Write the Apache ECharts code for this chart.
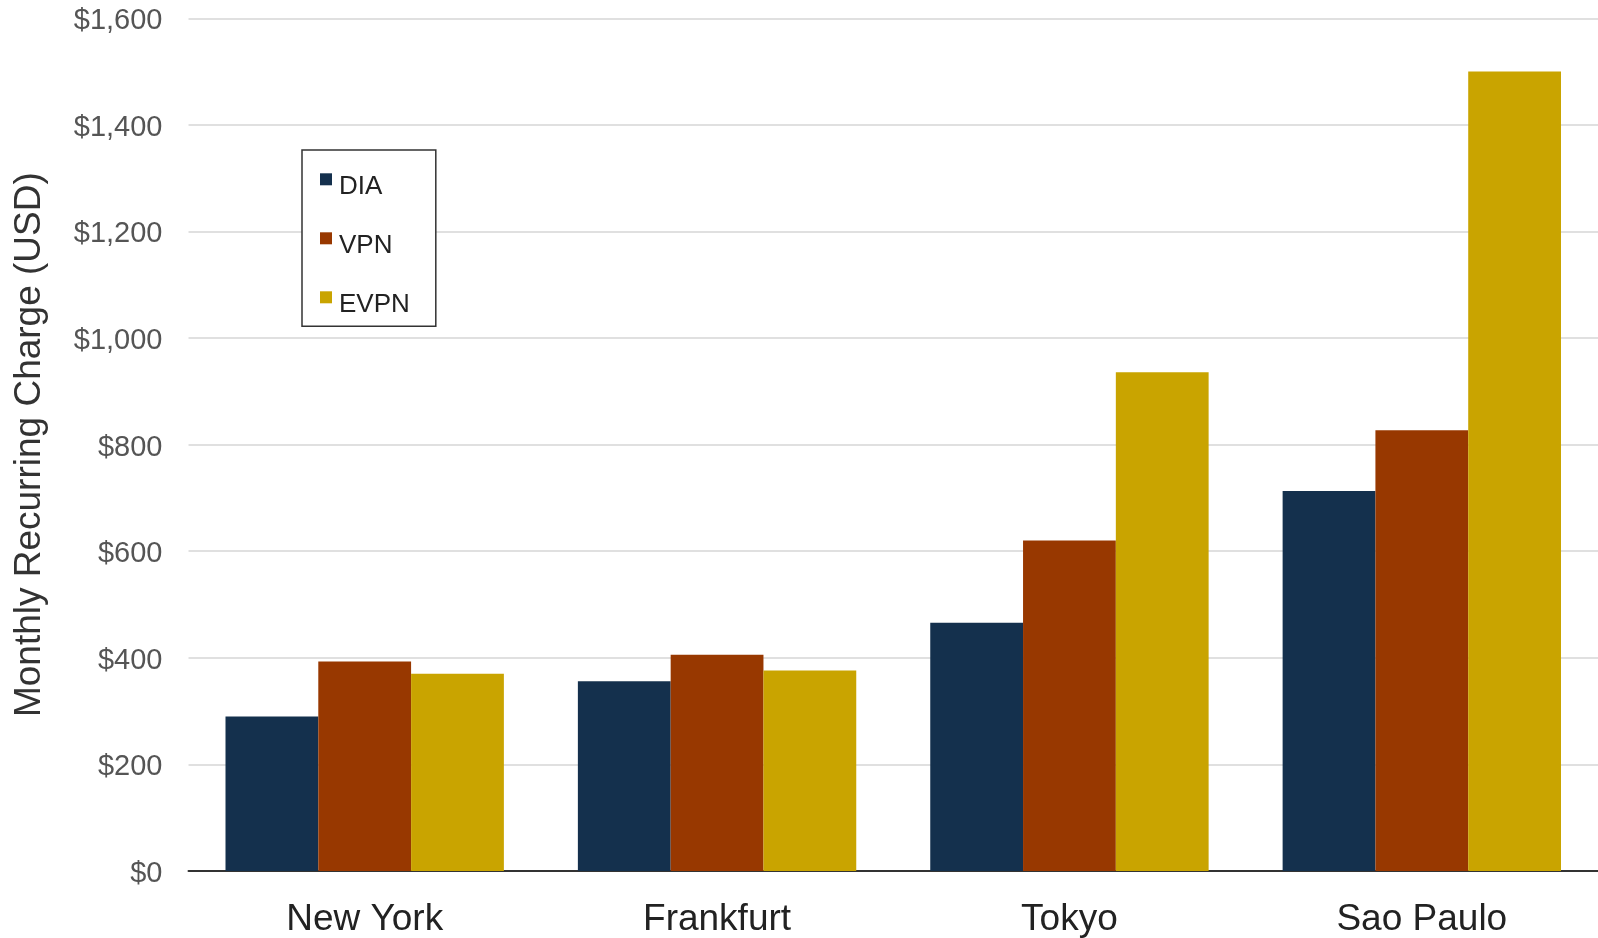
<!DOCTYPE html>
<html>
<head>
<meta charset="utf-8">
<script src="https://cdn.jsdelivr.net/npm/echarts@6/dist/echarts.min.js"></script>
<style>
  html, body { margin: 0; padding: 0; background: #fff; }
  #chart { width: 1598px; height: 938px; }
</style>
</head>
<body>
<div id="chart"></div>
<script>
// Monthly recurring charge per service type, by city
const cities = ['New York', 'Frankfurt', 'Tokyo', 'Sao Paulo'];
const diaValues = [290, 356, 466, 713];
const vpnValues = [393, 406, 620, 827];
const evpnValues = [370, 376, 936, 1500];
const yTicks = { min: 0, max: 1600, step: 200 };

const FONT = '"Liberation Sans", "Helvetica Neue", Helvetica, Arial, sans-serif';
const colors = { DIA: '#14304d', VPN: '#983800', EVPN: '#c9a400' };

const chart = echarts.init(document.getElementById('chart'), null, { renderer: 'canvas' });

function barSeries(name, values) {
  return {
    name: name,
    type: 'bar',
    data: values,
    barGap: '0%',
    barCategoryGap: '21%',
    itemStyle: { color: colors[name] },
    emphasis: { disabled: true }
  };
}

chart.setOption({
  animation: false,
  backgroundColor: '#ffffff',
  grid: { left: 188.5, right: 0, top: 18.3, bottom: 66.3, containLabel: false },
  legend: {
    orient: 'vertical',
    left: 302,
    top: 150,
    padding: [8.8, 26, 8.5, 18],
    itemGap: 18,
    itemWidth: 12,
    itemHeight: 12,
    icon: 'rect',
    borderColor: '#333333',
    borderWidth: 1.5,
    backgroundColor: '#ffffff',
    data: ['DIA', 'VPN', 'EVPN'],
    formatter: '{n|{name}}',
    textStyle: {
      rich: {
        n: {
          fontFamily: FONT,
          fontSize: 26,
          color: '#222222',
          lineHeight: 30,
          padding: [15, 0, 0, 2]
        }
      }
    }
  },
  xAxis: {
    type: 'category',
    data: cities,
    axisLine: { show: true, lineStyle: { color: '#333333', width: 2 } },
    axisTick: { show: false },
    axisLabel: {
      fontFamily: FONT,
      fontSize: 37,
      color: '#222222',
      margin: 30
    }
  },
  yAxis: {
    type: 'value',
    min: yTicks.min,
    max: yTicks.max,
    interval: yTicks.step,
    name: 'Monthly Recurring Charge (USD)',
    nameLocation: 'middle',
    nameRotate: 90,
    nameGap: 140,
    nameTextStyle: { fontFamily: FONT, fontSize: 37, color: '#333333' },
    axisLine: { show: false },
    axisTick: { show: false },
    splitLine: { lineStyle: { color: '#d6d6d6', width: 1.5 } },
    axisLabel: {
      margin: 26,
      formatter: function (v) { return '{v|$' + v.toLocaleString('en-US') + '}'; },
      rich: {
        v: {
          fontFamily: FONT,
          fontSize: 29,
          color: '#555555',
          lineHeight: 32,
          padding: [6, 0, 0, 0]
        }
      }
    }
  },
  series: [
    barSeries('DIA', diaValues),
    barSeries('VPN', vpnValues),
    barSeries('EVPN', evpnValues)
  ]
});
</script>
</body>
</html>
